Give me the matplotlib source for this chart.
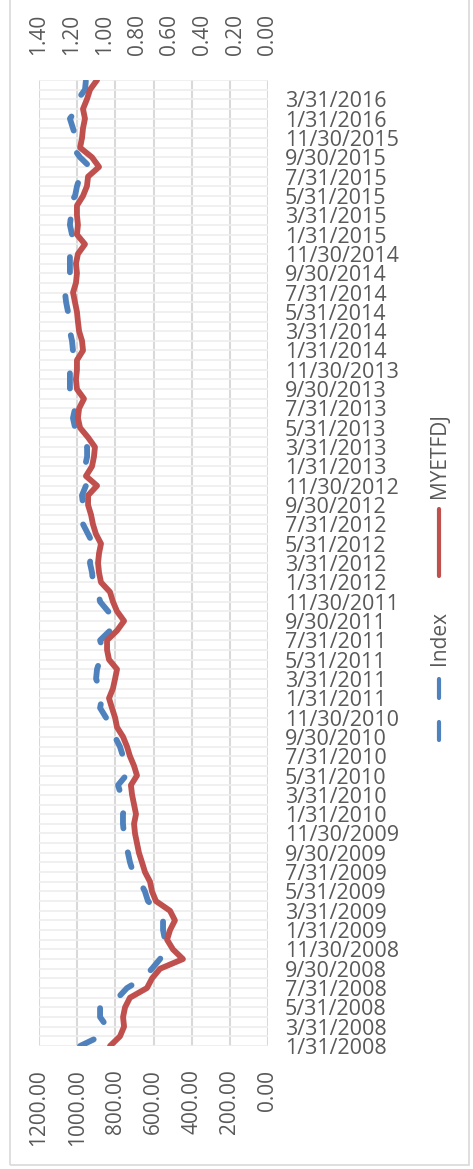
import numpy as np
import pandas as pd
import matplotlib
matplotlib.use("Agg")
import matplotlib.pyplot as plt
from matplotlib.lines import Line2D
from matplotlib.patches import Rectangle

plt.rcParams['font.family'] = ['Open Sans', 'DejaVu Sans']

# month-end dates, Jan 2008 .. May 2016
dates = pd.date_range('2008-01-31', periods=101, freq='ME')

# Index (primary axis, 0-1200)
index_vals = [985, 880, 844, 880, 880, 786, 739, 655, 608, 566,
              529, 540, 550, 550, 576, 629, 645, 671, 707, 723,
              734, 749, 755, 760, 760, 749, 770, 786, 744, 755,
              760, 776, 802, 828, 849, 880, 870, 880, 901, 896,
              880, 865, 880, 828, 796, 838, 880, 891, 917, 922,
              933, 927, 917, 943, 969, 980, 969, 975, 954, 964,
              959, 948, 948, 985, 1011, 1022, 1011, 1006, 1038, 1038,
              1038, 1048, 1022, 1027, 1038, 1048, 1048, 1058, 1064, 1048,
              1038, 1038, 1038, 1011, 1027, 1038, 1032, 1048, 1011, 1001,
              985, 933, 985, 1022, 1006, 1022, 1038, 1001, 996, 959,
              954]

# MYETFDJ (secondary axis, 0-1.40)
myetf_vals = [0.966, 0.905, 0.880, 0.886, 0.874, 0.844, 0.740, 0.709, 0.660, 0.520,
              0.581, 0.617, 0.599, 0.569, 0.599, 0.685, 0.709, 0.721, 0.752, 0.770,
              0.789, 0.801, 0.813, 0.819, 0.807, 0.819, 0.831, 0.838, 0.801, 0.819,
              0.844, 0.862, 0.886, 0.923, 0.935, 0.954, 0.972, 0.948, 0.935, 0.923,
              0.972, 0.984, 0.984, 0.923, 0.880, 0.923, 0.948, 0.966, 1.021, 1.033,
              1.039, 1.033, 1.021, 1.052, 1.070, 1.082, 1.100, 1.100, 1.045, 1.113,
              1.076, 1.064, 1.058, 1.100, 1.149, 1.162, 1.155, 1.125, 1.168, 1.174,
              1.168, 1.168, 1.131, 1.137, 1.155, 1.162, 1.168, 1.180, 1.192, 1.174,
              1.168, 1.174, 1.162, 1.119, 1.168, 1.162, 1.168, 1.168, 1.131, 1.107,
              1.100, 1.033, 1.076, 1.149, 1.137, 1.131, 1.119, 1.131, 1.107, 1.088,
              1.045]

primary_ticks = [0, 200, 400, 600, 800, 1000, 1200]
secondary_ticks = [0.0, 0.2, 0.4, 0.6, 0.8, 1.0, 1.2, 1.4]

W, H = 473, 1169
txt = '#595959'
fig = plt.figure(figsize=(W / 100, H / 100), dpi=100)

pos = np.arange(len(dates))
ax = fig.add_axes([39 / W, 1 - 1046 / H, 229 / W, 966 / H])
ax.plot(index_vals, pos, color='#4F81BD', lw=4.2, dashes=(2.6, 4.2),
        dash_capstyle='round', solid_joinstyle='round')
ax.set_xlim(1200, 0)
ax.set_ylim(0, len(dates) - 1)
ax.set_xticks(primary_ticks)
ax.set_xticklabels([f"{v:.2f}" for v in primary_ticks])
ax.tick_params(axis='x', labelrotation=90, length=0, pad=17, labelsize=15, labelcolor=txt)

lab_pos = pos[:-1:2]
ax.set_yticks(lab_pos)
ax.set_yticklabels([f"{d.month}/{d.day}/{d.year}" for d in dates[lab_pos]])
ax.set_yticks(pos, minor=True)
ax.yaxis.tick_right()
ax.tick_params(axis='y', which='both', length=0, pad=12, labelsize=15.5, labelcolor=txt)
ax.grid(axis='y', which='both', color='#eeeeee', lw=1.2)
ax.grid(axis='x', color='#d9d9d9', lw=1.5)
ax.set_axisbelow(True)
for s in ax.spines.values():
    s.set_visible(False)

ax2 = ax.twiny()
ax2.plot(myetf_vals, pos, color='#C0504D', lw=4.2,
         solid_capstyle='round', solid_joinstyle='round')
ax2.set_xlim(1.4, 0)
ax2.set_xticks(secondary_ticks)
ax2.set_xticklabels([f"{v:.2f}" for v in secondary_ticks])
ax2.tick_params(axis='x', labelrotation=90, length=0, pad=18, labelsize=15, labelcolor=txt)
for s in ax2.spines.values():
    s.set_visible(False)

# legend (rotated, drawn by hand)
def fy(y):
    return 1 - y / H

lx = 439 / W
fig.add_artist(Line2D([lx, lx], [fy(576), fy(509)], color='#C0504D', lw=3,
                      solid_capstyle='round', transform=fig.transFigure))
fig.text(lx, fy(456), 'MYETFDJ', rotation=90, ha='center', va='center', fontsize=15, color=txt)
for y0, y1 in [(740, 722), (698, 679)]:
    fig.add_artist(Line2D([lx, lx], [fy(y0), fy(y1)], color='#4F81BD', lw=3,
                          solid_capstyle='round', transform=fig.transFigure))
fig.text(lx, fy(638), 'Index', rotation=90, ha='center', va='center', fontsize=15, color=txt)

fig.patches.append(Rectangle((10 / W, 4 / H), 459 / W, 1.0, transform=fig.transFigure,
                             fill=False, edgecolor='#d9d9d9', lw=1.2))

fig.savefig('out.png', dpi=100)
